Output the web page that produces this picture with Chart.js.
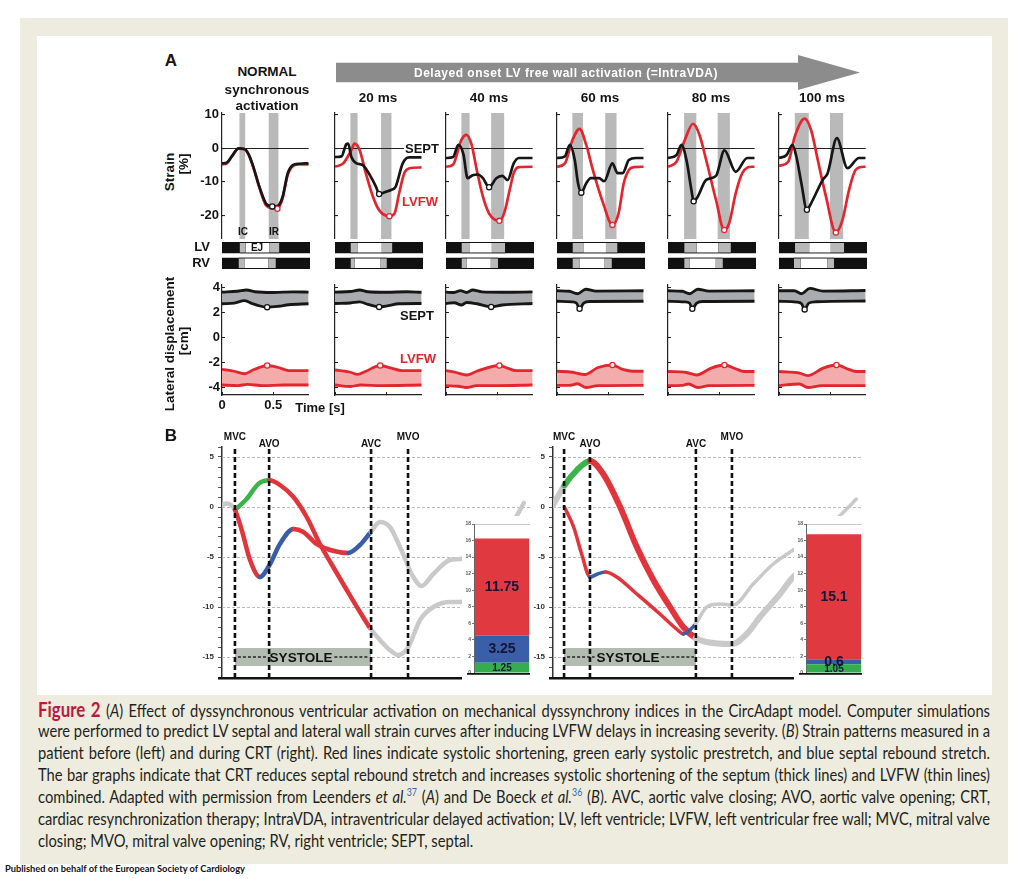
<!DOCTYPE html>
<html>
<head>
<meta charset="utf-8">
<title>Figure 2</title>
<script src="https://cdn.jsdelivr.net/npm/chart.js@4.4.1/dist/chart.umd.min.js"></script>
<style>
  html, body { margin: 0; padding: 0; background: #fff; }
  #page { position: relative; width: 1024px; height: 879px; overflow: hidden; background: #fff; font-family: "Liberation Sans", Arial, sans-serif; }
  #frame { position: absolute; left: 20px; top: 18px; width: 988px; height: 846px; background: #eeecdf; }
  #panel { position: absolute; left: 37px; top: 36px; width: 955px; height: 659px; background: #fff; }
  #arrow { position: absolute; left: 336px; top: 55px; width: 524px; height: 35px; background: #8c8c8c;
           clip-path: polygon(0 7.7px, 462px 7.7px, 462px 0, 524px 17.5px, 462px 35px, 462px 27.3px, 0 27.3px); }
  canvas { position: absolute; }
  .lbl { position: absolute; white-space: nowrap; font-weight: bold; color: #141414; line-height: 1; transform: translate(-50%, -50%); }
  .rot { transform: translate(-50%, -50%) rotate(-90deg); }
  .cap { position: absolute; white-space: nowrap; font-family: Lato, "Open Sans", sans-serif; font-size: 17.5px; line-height: 22px; color: #231f20; transform-origin: 0 50%; }
  .cap .fig { color: #c0163d; font-weight: bold; font-size: 20px; }
  .cap sup { font-size: 10.5px; color: #3d63b4; vertical-align: 0; position: relative; top: -7px; }
  .pub { position: absolute; white-space: nowrap; font-family: Lato, "Open Sans", sans-serif; font-weight: bold; font-size: 8.5px; color: #111; transform-origin: 0 50%; }
</style>
</head>
<body>
<div id="page">
  <div id="frame"></div>
  <div id="panel"></div>
  <div id="arrow"></div>
</div>
<script>
// ---------- Panel A: CircAdapt simulations ----------
var COLUMN_TITLES = ['20 ms', '40 ms', '60 ms', '80 ms', '100 ms'];
var TIME_MAX = 0.845;
var TIME_TICKS = [0, 0.5];
var STRAIN_TICKS = [-20, -10, 0, 10];
var DISP_TICKS = [-4, -2, 0, 2, 4];

// [IC start, IC end (=EJ start), IR start (=EJ end), IR end] in s
var LV_TIMING = [[0.17, 0.226, 0.455, 0.55], [0.15, 0.22, 0.449, 0.55], [0.15, 0.23, 0.44, 0.567],
                 [0.15, 0.253, 0.47, 0.58], [0.157, 0.276, 0.484, 0.603], [0.154, 0.29, 0.497, 0.625]];
var RV_TIMING = [[0.16, 0.22, 0.445, 0.516], [0.15, 0.19, 0.433, 0.497], [0.15, 0.2, 0.43, 0.5],
                 [0.15, 0.215, 0.452, 0.526], [0.157, 0.21, 0.458, 0.526], [0.144, 0.208, 0.465, 0.529]];

// strain [time s, %]
var SEPT_STRAIN = [
  [[0,-4.5],[0.05,-4.2],[0.1,-2.2],[0.16,0],[0.22,-0.2],[0.26,-1.8],[0.3,-5],[0.365,-11.5],[0.4,-14.5],[0.43,-16.5],[0.49,-17.3],[0.54,-17.2],[0.59,-14.5],[0.64,-7.5],[0.69,-5],[0.75,-4.6],[0.845,-4.5]],
  [[0,-2.6],[0.064,-2.4],[0.11,1.2],[0.128,1.4],[0.16,-2.6],[0.21,-4.5],[0.27,-5.0],[0.34,-8.0],[0.4,-11.5],[0.43,-13.6],[0.5,-12.9],[0.545,-12.4],[0.59,-11.5],[0.66,-4.5],[0.72,-2.7],[0.845,-2.7]],
  [[0,-2.9],[0.07,-2.6],[0.12,1.0],[0.17,-1.8],[0.21,-8.9],[0.26,-8.0],[0.31,-7.8],[0.36,-8.9],[0.42,-11.6],[0.49,-8.9],[0.55,-8.2],[0.6,-9.5],[0.66,-4.5],[0.71,-2.9],[0.845,-2.9]],
  [[0,-2.9],[0.077,-2.4],[0.125,1.0],[0.173,-3.5],[0.205,-10.4],[0.237,-13.2],[0.285,-10.4],[0.33,-8.9],[0.41,-8.9],[0.46,-9.8],[0.54,-4.5],[0.59,-7.4],[0.64,-7.4],[0.7,-3.5],[0.77,-2.9],[0.845,-2.9]],
  [[0,-2.9],[0.083,-2.0],[0.131,1.0],[0.18,-3.5],[0.228,-12.4],[0.25,-15.8],[0.29,-14.4],[0.372,-9.4],[0.468,-8.2],[0.55,-0.6],[0.66,-7.0],[0.772,-2.9],[0.845,-2.9]],
  [[0,-2.9],[0.074,-2.0],[0.131,1.0],[0.17,-2.6],[0.218,-10.4],[0.272,-18.3],[0.314,-16.3],[0.426,-9.4],[0.474,-7.4],[0.564,3.0],[0.667,-5.9],[0.779,-2.9],[0.845,-2.9]]
];
var LVFW_STRAIN = [
  [[0,-4.8],[0.05,-4.4],[0.1,-2.3],[0.16,-0.1],[0.22,-0.3],[0.26,-2],[0.3,-5.2],[0.365,-11.8],[0.4,-15],[0.43,-17],[0.49,-17.8],[0.54,-18],[0.59,-15],[0.64,-8],[0.69,-5.3],[0.75,-4.8],[0.845,-4.8]],
  [[0,-5.5],[0.08,-4.5],[0.16,-0.5],[0.19,1.4],[0.24,-0.5],[0.3,-7.4],[0.37,-14.4],[0.43,-18.4],[0.53,-20.2],[0.58,-19.4],[0.625,-13.4],[0.675,-7.4],[0.72,-6.0],[0.845,-5.7]],
  [[0,-5.5],[0.07,-4.8],[0.15,2.5],[0.2,4.0],[0.25,1.0],[0.3,-6.5],[0.36,-14.4],[0.42,-19.4],[0.52,-21.6],[0.57,-19.0],[0.62,-12.5],[0.66,-7.4],[0.71,-5.6],[0.845,-5.5]],
  [[0,-5.5],[0.077,-4.5],[0.15,2.4],[0.22,5.8],[0.285,1.0],[0.35,-6.5],[0.45,-16.4],[0.54,-22.8],[0.6,-19.4],[0.65,-10.5],[0.7,-6.5],[0.75,-5.6],[0.845,-5.5]],
  [[0,-5.5],[0.083,-4.0],[0.163,2.4],[0.244,7.3],[0.308,3.9],[0.372,-3.5],[0.468,-15.4],[0.548,-24.3],[0.596,-22.3],[0.66,-13.4],[0.724,-7.4],[0.82,-5.5],[0.845,-5.5]],
  [[0,-5.2],[0.09,-4.0],[0.154,3.5],[0.25,8.8],[0.314,5.3],[0.378,-3.5],[0.458,-14.4],[0.554,-25.1],[0.619,-21.3],[0.683,-12.4],[0.747,-6.4],[0.827,-5.5],[0.845,-5.5]]
];
var SEPT_PEAK = [[0.49,-17.3], [0.43,-13.6], [0.42,-11.6], [0.237,-13.2], [0.25,-15.8], [0.272,-18.3]];
var LVFW_PEAK = [[0.54,-18], [0.53,-20.2], [0.52,-21.6], [0.54,-22.8], [0.548,-24.3], [0.554,-25.1]];

// lateral displacement [time s, cm]
var SEPT_DISP_OUT = [
  [[0,3.63],[0.15,3.7],[0.24,3.8],[0.32,3.66],[0.5,3.6],[0.7,3.65],[0.845,3.63]],
  [[0,3.63],[0.15,3.68],[0.24,3.8],[0.32,3.66],[0.5,3.62],[0.7,3.66],[0.845,3.62]],
  [[0,3.63],[0.08,3.6],[0.14,3.75],[0.2,3.6],[0.26,3.8],[0.35,3.65],[0.55,3.62],[0.845,3.65]],
  [[0,3.74],[0.12,3.7],[0.2,3.5],[0.28,3.86],[0.38,3.71],[0.845,3.74]],
  [[0,3.74],[0.14,3.7],[0.21,3.5],[0.29,3.86],[0.4,3.71],[0.845,3.74]],
  [[0,3.74],[0.15,3.74],[0.22,3.5],[0.3,3.93],[0.43,3.71],[0.845,3.76]]
];
var SEPT_DISP_IN = [
  [[0,2.7],[0.12,2.75],[0.22,2.95],[0.3,2.7],[0.38,2.5],[0.44,2.43],[0.55,2.5],[0.65,2.62],[0.845,2.7]],
  [[0,2.72],[0.15,2.76],[0.24,2.85],[0.32,2.65],[0.43,2.45],[0.52,2.55],[0.62,2.7],[0.845,2.72]],
  [[0,2.72],[0.08,2.78],[0.15,2.6],[0.2,2.8],[0.3,2.7],[0.44,2.45],[0.55,2.6],[0.845,2.72]],
  [[0,2.9],[0.14,2.85],[0.19,2.75],[0.22,2.3],[0.26,2.75],[0.32,2.88],[0.845,2.9]],
  [[0,2.9],[0.16,2.85],[0.21,2.75],[0.237,2.3],[0.28,2.75],[0.34,2.88],[0.845,2.9]],
  [[0,2.9],[0.17,2.83],[0.22,2.7],[0.25,2.25],[0.29,2.75],[0.36,2.86],[0.845,2.92]]
];
var LVFW_DISP_IN = [
  [[0,-2.55],[0.12,-2.7],[0.22,-2.9],[0.3,-2.6],[0.38,-2.35],[0.44,-2.24],[0.55,-2.4],[0.65,-2.65],[0.845,-2.65]],
  [[0,-2.6],[0.15,-2.78],[0.22,-2.95],[0.3,-2.7],[0.44,-2.24],[0.55,-2.45],[0.65,-2.65],[0.845,-2.65]],
  [[0,-2.65],[0.1,-2.8],[0.2,-3.0],[0.3,-2.7],[0.52,-2.24],[0.6,-2.45],[0.68,-2.65],[0.845,-2.65]],
  [[0,-2.7],[0.15,-2.78],[0.27,-2.96],[0.4,-2.4],[0.54,-2.2],[0.64,-2.55],[0.74,-2.7],[0.845,-2.7]],
  [[0,-2.72],[0.18,-2.8],[0.28,-3.0],[0.42,-2.45],[0.55,-2.2],[0.66,-2.5],[0.74,-2.72],[0.845,-2.72]],
  [[0,-2.72],[0.2,-2.85],[0.28,-3.05],[0.43,-2.45],[0.56,-2.2],[0.68,-2.55],[0.75,-2.72],[0.845,-2.72]]
];
var LVFW_DISP_OUT = [
  [[0,-3.8],[0.15,-3.85],[0.25,-3.75],[0.4,-3.85],[0.6,-3.8],[0.845,-3.8]],
  [[0,-3.8],[0.15,-3.92],[0.25,-3.8],[0.45,-3.85],[0.845,-3.8]],
  [[0,-3.85],[0.12,-3.9],[0.2,-4.0],[0.3,-3.85],[0.5,-3.85],[0.845,-3.8]],
  [[0,-3.83],[0.12,-3.83],[0.2,-3.7],[0.28,-4.0],[0.4,-3.85],[0.845,-3.83]],
  [[0,-3.85],[0.14,-3.83],[0.2,-3.72],[0.29,-4.0],[0.4,-3.85],[0.845,-3.83]],
  [[0,-3.85],[0.2,-3.72],[0.28,-4.0],[0.42,-3.85],[0.845,-3.85]]
];
var SEPT_DISP_PEAK = [[0.44,2.43], [0.43,2.45], [0.44,2.45], [0.22,2.3], [0.237,2.3], [0.25,2.25]];
var LVFW_DISP_PEAK = [[0.44,-2.24], [0.44,-2.24], [0.52,-2.24], [0.54,-2.2], [0.55,-2.2], [0.56,-2.2]];

// ---------- Panel B: patient strain, before (PRE) and during CRT ----------
// [time (% of frame), strain %, phase of the following segment]
// phase: o = outside systole, p = prestretch, s = shortening, r = rebound stretch
var PRE_SEPT = [[0,0.2,'o'],[1.5,0.35,'o'],[4.2,-0.3,'s'],[6.4,-2.3,'s'],[9.1,-5.3,'s'],[12.3,-7.0,'r'],[15.6,-5.7,'r'],[18.8,-3.7,'r'],
  [23.2,-2.2,'s'],[26.4,-2.5,'s'],[30.7,-3.7,'s'],[35.1,-4.3,'s'],[41.0,-4.6,'r'],[44.8,-3.8,'r'],[48.3,-2.5,'o'],[51.3,-1.5,'o'],
  [54.5,-2.0,'o'],[57.8,-4.0,'o'],[62.1,-7.0,'o'],[64.8,-7.9,'o'],[68.6,-6.7,'o'],[74.0,-5.3,'o'],[77.3,-5.2,'o'],[85,-4.6,'o'],
  [92,-2.6,'o'],[95.5,-1.0,'o'],[98,0.4,'o']];
var PRE_LVFW = [[4.2,-0.3,'p'],[8.0,0.8,'p'],[11.8,2.3,'p'],[15.4,2.67,'s'],[18.8,2.2,'s'],[23.2,1.0,'s'],[27.5,-1.0,'s'],[31.8,-3.7,'s'],
  [36.1,-6.0,'s'],[40.5,-8.3,'s'],[44.8,-10.5,'s'],[48.3,-12.2,'o'],[51.3,-13.3,'o'],[54.5,-14.3,'o'],[57.2,-14.8,'o'],[60.5,-14.0,'o'],
  [64.3,-11.3,'o'],[68.6,-10.0,'o'],[74.0,-9.5,'o'],[77.3,-9.5,'o'],[88,-8.5,'o'],[98,-6,'o']];
var CRT_SEPT = [[3.7,0,'s'],[6.7,-2.0,'s'],[9.3,-4.7,'s'],[12.0,-7.0,'r'],[14.5,-6.7,'r'],[17.0,-6.5,'s'],[20.7,-7.0,'s'],[27.2,-8.7,'s'],
  [34.7,-10.7,'s'],[40.1,-12.2,'s'],[42.3,-12.7,'r'],[46.3,-11.7,'o'],[49.9,-10.0,'o'],[54.2,-9.7,'o'],[58.5,-9.8,'o'],[65,-7.7,'o'],
  [71.5,-5.7,'o'],[78,-4.3,'o'],[86,-2.8,'o'],[92,-1.2,'o'],[96,0,'o'],[98.5,0.8,'o']];
var CRT_LVFW = [[0,0.17,'o'],[3.7,2.17,'p'],[7.7,3.67,'p'],[12.0,4.6,'s'],[16.3,3.3,'s'],[21.8,0,'s'],[27.2,-4.0,'s'],[32.6,-7.3,'s'],
  [38.0,-10.0,'s'],[42.3,-12.0,'s'],[46.3,-13.1,'o'],[49.9,-13.5,'o'],[58.2,-13.7,'o'],[62.9,-12.7,'o'],[67.2,-11.0,'o'],[73.7,-8.7,'o'],
  [78.0,-7.0,'o'],[88,-5,'o'],[98,-3.5,'o']];
var VALVE_NAMES = ['MVC', 'AVO', 'AVC', 'MVO'];
var PRE_VALVES = [4.2, 15.3, 48.4, 60.4];
var CRT_VALVES = [3.6, 12.0, 46.4, 58.1];
var B_GRID = [5, 0, -5, -10, -15];
// stacked bars: prestretch, rebound stretch, shortening
var PRE_BAR = [1.25, 3.25, 11.75];
var CRT_BAR = [1.05, 0.6, 15.1];

// ---------- styling ----------
var RED = '#e3262d', INK = '#161616', BAND = '#b9b9b9';
var PHASE_COLOR = { o: '#c9c9c9', p: '#3cb44b', s: '#e2343b', r: '#3a5da9' };
var BAR_COLORS = ['#35ad4c', '#3b5ea8', '#e03a40'];
var PLOT_LEFT = [222, 335, 446, 557, 668, 779];
var PLOT_W = 88;

Chart.defaults.font.family = '"Liberation Sans", Arial, sans-serif';
Chart.defaults.animation = false;
Chart.defaults.events = [];
Chart.defaults.plugins.legend.display = false;
Chart.defaults.plugins.tooltip.enabled = false;

var page = document.getElementById('page');

function pts(a) {
  return a.map(function (p) { return { x: p[0], y: p[1] }; });
}
function fixW(w) { return function (s) { s.width = w; }; }
function fixH(h) { return function (s) { s.height = h; }; }
function setTicks(list) {
  return function (s) { s.ticks = list.map(function (v) { return { value: v }; }); };
}

// canvas whose chart area lands on the given page rectangle
function frame(left, top, right, bottom, m, hx) {
  var c = document.createElement('canvas');
  var w = Math.round(right - left + m.l + m.r);
  var h = Math.round(bottom - top + m.t + m.b);
  c.width = w; c.height = h;
  c.style.left = (left - m.l) + 'px';
  c.style.top = (top - m.t) + 'px';
  c.style.width = w + 'px'; c.style.height = h + 'px';
  page.appendChild(c);
  return { canvas: c, padding: { left: 0, top: m.t, right: m.r, bottom: m.b - (hx || 0) } };
}

function label(text, x, y, size, opts) {
  opts = opts || {};
  var d = document.createElement('div');
  d.className = 'lbl' + (opts.rot ? ' rot' : '');
  d.textContent = text;
  d.style.left = x + 'px';
  d.style.top = y + 'px';
  d.style.fontSize = size + 'px';
  if (opts.color) d.style.color = opts.color;
  if (opts.bg) { d.style.background = opts.bg; d.style.padding = '0 1px'; }
  if (opts.ls) d.style.letterSpacing = opts.ls;
  page.appendChild(d);
  return d;
}

// solid base line along the bottom of the chart area (value = scale minimum)
function drawBaseline(chart, width, extendLeft) {
  var a = chart.chartArea, ctx = chart.ctx;
  var py = chart.scales.y.getPixelForValue(chart.scales.y.min);
  ctx.save();
  ctx.setLineDash([]);
  ctx.globalAlpha = 1;
  ctx.strokeStyle = '#111';
  ctx.lineWidth = width;
  ctx.beginPath();
  ctx.moveTo(a.left - extendLeft, py + width / 2);
  ctx.lineTo(a.right, py + width / 2);
  ctx.stroke();
  ctx.restore();
}

// ---------- plugins ----------
var bandPlugin = {
  id: 'bands',
  beforeDraw: function (chart, args, o) {
    var x = chart.scales.x, a = chart.chartArea, ctx = chart.ctx, t = o.timing;
    ctx.save();
    ctx.fillStyle = BAND;
    [[t[0], t[1]], [t[2], t[3]]].forEach(function (b) {
      var x0 = x.getPixelForValue(b[0]), x1 = x.getPixelForValue(b[1]);
      ctx.fillRect(x0, a.top, x1 - x0, a.bottom - a.top);
    });
    ctx.restore();
  }
};

var guidePlugin = {
  id: 'guides',
  beforeDatasetsDraw: function (chart, args, o) {
    var y = chart.scales.y, a = chart.chartArea, ctx = chart.ctx;
    ctx.save();
    ctx.strokeStyle = '#b9b9b9';
    ctx.lineWidth = 1;
    ctx.setLineDash([3, 2]);
    o.values.forEach(function (v) {
      var py = Math.round(y.getPixelForValue(v)) + 0.5;
      ctx.beginPath(); ctx.moveTo(a.left, py); ctx.lineTo(a.right, py); ctx.stroke();
    });
    ctx.restore();
  },
  afterDraw: function (chart) {
    drawBaseline(chart, 2.4, 4);
  }
};

var valvePlugin = {
  id: 'valves',
  beforeDatasetsDraw: function (chart, args, o) {
    var x = chart.scales.x, y = chart.scales.y, ctx = chart.ctx;
    var x0 = x.getPixelForValue(o.at[0]), x1 = x.getPixelForValue(o.at[2]);
    var y0 = y.getPixelForValue(-14.1), y1 = y.getPixelForValue(-15.9), yc = y.getPixelForValue(-15);
    ctx.save();
    ctx.fillStyle = '#b3bcb1';
    ctx.fillRect(x0, y0, x1 - x0, y1 - y0);
    ctx.font = 'bold 13.5px "Liberation Sans", Arial';
    ctx.fillStyle = '#111';
    ctx.textAlign = 'center';
    ctx.textBaseline = 'middle';
    var cx = (x0 + x1) / 2 - 2;
    ctx.fillText('SYSTOLE', cx, yc + 1);
    var tw = ctx.measureText('SYSTOLE').width / 2;
    ctx.strokeStyle = '#222';
    ctx.lineWidth = 1.4;
    ctx.setLineDash([3, 2]);
    ctx.beginPath();
    ctx.moveTo(x0 + 3, yc); ctx.lineTo(cx - tw - 2, yc);
    ctx.moveTo(cx + tw + 2, yc); ctx.lineTo(x1 - 2, yc);
    ctx.stroke();
    ctx.restore();
  },
  afterDatasetsDraw: function (chart, args, o) {
    var x = chart.scales.x, a = chart.chartArea, ctx = chart.ctx;
    ctx.save();
    ctx.strokeStyle = '#111';
    ctx.lineWidth = 2.6;
    ctx.setLineDash([5, 3]);
    ctx.font = 'bold 10px "Liberation Sans", Arial';
    ctx.fillStyle = '#111';
    ctx.textAlign = 'center';
    ctx.textBaseline = 'middle';
    o.at.forEach(function (u, k) {
      var px = x.getPixelForValue(u);
      ctx.beginPath(); ctx.moveTo(px, a.top + 2); ctx.lineTo(px, a.bottom + 1); ctx.stroke();
      var name = VALVE_NAMES[k];
      var dy = (name === 'AVO' || name === 'AVC') ? 3 : 10;
      ctx.fillText(name, px, a.top - dy);
    });
    ctx.restore();
  }
};

var whitePlugin = {
  id: 'white',
  beforeDraw: function (chart) {
    var ctx = chart.ctx;
    ctx.save(); ctx.fillStyle = '#fff';
    ctx.fillRect(0, 0, chart.width, chart.height);
    ctx.restore();
  }
};

var barTextPlugin = {
  id: 'barText',
  afterDatasetsDraw: function (chart) {
    var ctx = chart.ctx;
    ctx.save();
    ctx.textAlign = 'center';
    ctx.textBaseline = 'middle';
    ctx.fillStyle = '#15153a';
    chart.data.datasets.forEach(function (ds, k) {
      var el = chart.getDatasetMeta(k).data[0];
      ctx.font = 'bold ' + (k === 0 ? 10 : 14) + 'px "Liberation Sans", Arial';
      ctx.fillText(String(ds.data[0]), el.x, (el.y + el.base) / 2 + (k === 0 ? 0.5 : 0));
    });
    ctx.restore();
  },
  afterDraw: function (chart) {
    drawBaseline(chart, 1.8, 7);
  }
};

// ---------- Panel A charts ----------
function marker(p, color) {
  return { data: pts([p]), showLine: false, pointRadius: 2.6, pointBackgroundColor: '#fff',
           pointBorderColor: color, pointBorderWidth: 1.3, order: 0 };
}
function curve(series, color, width, order, extra) {
  var d = { data: pts(series), borderColor: color, borderWidth: width, pointRadius: 0,
            cubicInterpolationMode: 'monotone', order: order, fill: false };
  for (var k in extra) d[k] = extra[k];
  return d;
}

function strainChart(i) {
  var L = PLOT_LEFT[i];
  var f = frame(L, 113, L + PLOT_W, 239, { l: 44, t: 16, r: 4, b: 16 });
  new Chart(f.canvas, {
    type: 'line',
    data: { datasets: [
      marker(SEPT_PEAK[i], INK),
      marker(LVFW_PEAK[i], RED),
      curve(SEPT_STRAIN[i], INK, 2.7, 1),
      curve(LVFW_STRAIN[i], RED, 2.7, 2)
    ] },
    options: {
      responsive: false,
      layout: { padding: f.padding },
      scales: {
        x: { type: 'linear', min: 0, max: TIME_MAX, display: false },
        y: {
          min: -27, max: 10.5, afterFit: fixW(44), afterBuildTicks: setTicks(STRAIN_TICKS),
          border: { color: '#222', width: 1.2 },
          grid: { color: function (c) { return c.tick && c.tick.value === 0 ? '#222' : 'rgba(0,0,0,0)'; },
                  lineWidth: 1.1, tickLength: -3, tickColor: '#222' },
          ticks: { display: i === 0, font: { size: 13, weight: 'bold' }, color: '#141414', padding: 6 }
        }
      },
      plugins: { bands: { timing: LV_TIMING[i] } }
    },
    plugins: [bandPlugin]
  });
}

function timingChart(i) {
  var L = PLOT_LEFT[i], lv = LV_TIMING[i], rv = RV_TIMING[i];
  var f = frame(L, 240, L + PLOT_W, 271, { l: 44, t: 14, r: 4, b: 14 });
  var seg = { borderColor: '#111', borderWidth: { top: 1, bottom: 1, left: 0, right: 0 }, borderSkipped: false, order: 0 };
  function ds(a, b, color) {
    var d = { data: [a, b], backgroundColor: color };
    for (var k in seg) d[k] = seg[k];
    return d;
  }
  var cycle = ds([0, TIME_MAX], [0, TIME_MAX], '#111');
  cycle.order = 1;
  new Chart(f.canvas, {
    type: 'bar',
    data: { labels: ['LV', 'RV'], datasets: [
      ds([lv[0], lv[1]], [rv[0], rv[1]], BAND),
      ds([lv[1], lv[2]], [rv[1], rv[2]], '#fff'),
      ds([lv[2], lv[3]], [rv[2], rv[3]], BAND),
      cycle
    ] },
    options: {
      responsive: false,
      indexAxis: 'y',
      layout: { padding: f.padding },
      datasets: { bar: { grouped: false, barThickness: 11 } },
      scales: {
        x: { type: 'linear', min: 0, max: TIME_MAX, display: false },
        y: { afterFit: fixW(44), grid: { display: false }, border: { display: false },
             ticks: { display: i === 0, autoSkip: false, font: { size: 13, weight: 'bold' }, color: '#141414', padding: 4 } }
      }
    }
  });
}

function dispChart(i) {
  var L = PLOT_LEFT[i];
  var f = frame(L, 285, L + PLOT_W, 395, { l: 44, t: 16, r: 4, b: 24 }, 20);
  new Chart(f.canvas, {
    type: 'line',
    data: { datasets: [
      marker(SEPT_DISP_PEAK[i], INK),
      marker(LVFW_DISP_PEAK[i], RED),
      curve(SEPT_DISP_OUT[i], INK, 2.8, 1, { fill: '+1', backgroundColor: '#a9abae' }),
      curve(SEPT_DISP_IN[i], INK, 2.8, 0.5),
      curve(LVFW_DISP_IN[i], RED, 2.8, 1, { fill: '+1', backgroundColor: '#f3abab' }),
      curve(LVFW_DISP_OUT[i], RED, 2.8, 0.5)
    ] },
    options: {
      responsive: false,
      layout: { padding: f.padding },
      scales: {
        x: { type: 'linear', min: 0, max: TIME_MAX, afterFit: fixH(20), afterBuildTicks: setTicks(TIME_TICKS),
             border: { color: '#222', width: 1.2 },
             grid: { drawOnChartArea: false, tickLength: -3, tickColor: '#222' },
             ticks: { display: i === 0, font: { size: 13, weight: 'bold' }, color: '#141414', padding: 6, maxRotation: 0 } },
        y: { min: -4.6, max: 4.2, afterFit: fixW(44), afterBuildTicks: setTicks(DISP_TICKS),
             border: { color: '#222', width: 1.2 },
             grid: { drawOnChartArea: false, tickLength: -3, tickColor: '#222' },
             ticks: { display: i === 0, font: { size: 13, weight: 'bold' }, color: '#141414', padding: 5 } }
      }
    }
  });
}

for (var i = 0; i < PLOT_LEFT.length; i++) {
  strainChart(i);
  timingChart(i);
  dispChart(i);
}

// ---------- Panel B charts ----------
function beatCurve(series, width) {
  return {
    data: pts(series), borderWidth: width, pointRadius: 0, cubicInterpolationMode: 'monotone',
    borderColor: PHASE_COLOR.o, borderCapStyle: 'round', borderJoinStyle: 'round', fill: false,
    segment: { borderColor: function (c) { return PHASE_COLOR[series[c.p0DataIndex][2]]; } }
  };
}

function beatChart(left, sept, lvfw, valves, septW, lvfwW) {
  var f = frame(left, 447, left + 308, 677, { l: 42, t: 24, r: 4, b: 12 });
  new Chart(f.canvas, {
    type: 'line',
    data: { datasets: [beatCurve(sept, septW), beatCurve(lvfw, lvfwW)] },
    options: {
      responsive: false,
      layout: { padding: f.padding },
      scales: {
        x: { type: 'linear', min: 0, max: 100, display: false },
        y: { min: -17, max: 6, afterFit: fixW(42), border: { color: '#333', width: 1.5 },
             grid: { drawOnChartArea: false, tickLength: 4, tickColor: '#555', tickWidth: 1 },
             ticks: { stepSize: 1, autoSkip: false, font: { size: 8, weight: 'bold' }, color: '#333', padding: 4,
                      callback: function (v) { return (v % 5 === 0 && v >= -15 && v <= 5) ? String(v) : ''; } } }
      },
      plugins: { guides: { values: B_GRID }, valves: { at: valves } }
    },
    plugins: [guidePlugin, valvePlugin]
  });
}

function barChart(left, values) {
  var f = frame(left, 524, left + 56, 673, { l: 12, t: 8, r: 2, b: 8 });
  new Chart(f.canvas, {
    type: 'bar',
    data: { labels: [''], datasets: values.map(function (v, k) {
      return { data: [v], backgroundColor: BAR_COLORS[k] };
    }) },
    options: {
      responsive: false,
      layout: { padding: f.padding },
      datasets: { bar: { barPercentage: 1, categoryPercentage: 0.97 } },
      scales: {
        x: { stacked: true, display: false },
        y: { stacked: true, min: 0, max: 18, afterFit: fixW(12), border: { color: '#666', width: 1 },
             grid: { color: function (c) { return c.tick && c.tick.value === 18 ? '#c8c8c8' : 'rgba(0,0,0,0)'; },
                     tickLength: 2, tickColor: '#777' },
             ticks: { stepSize: 2, autoSkip: false, font: { size: 5, weight: 'bold' }, color: '#555', padding: 1 } }
      }
    },
    plugins: [whitePlugin, barTextPlugin]
  });
}

beatChart(222, PRE_SEPT, PRE_LVFW, PRE_VALVES, 4.5, 4.5);
beatChart(553, CRT_SEPT, CRT_LVFW, CRT_VALVES, 3.5, 6);
barChart(474, PRE_BAR);
barChart(806, CRT_BAR);

// ---------- text ----------
label('A', 171, 60, 17);
label('B', 171, 435, 17);
label('NORMAL', 267, 72, 13.5);
label('synchronous', 267, 90, 13.5);
label('activation', 267, 106, 13.5);
COLUMN_TITLES.forEach(function (t, k) { label(t, PLOT_LEFT[k + 1] + 43, 98, 13.5); });
label('Delayed onset LV free wall activation (=IntraVDA)', 566, 72.5, 12, { color: '#fff', ls: '0.5px' });
label('Strain', 170, 172, 13.5, { rot: true });
label('[%]', 184, 164, 13.5, { rot: true });
label('Lateral displacement', 170, 344, 13.5, { rot: true });
label('[cm]', 184, 341, 13.5, { rot: true });
label('Time [s]', 320, 407, 13);
label('IC', 243, 232, 10);
label('IR', 274, 232, 10);
label('EJ', 257, 248, 10);
label('SEPT', 422, 148, 13, { bg: '#fff' });
label('LVFW', 420, 201, 13, { color: RED });
label('SEPT', 417, 315, 13);
label('LVFW', 418, 358, 13, { color: RED });

// ---------- caption ----------
var CAPTION_LINES = [
  '<span class="fig">Figure 2</span> (<i>A</i>) Effect of dyssynchronous ventricular activation on mechanical dyssynchrony indices in the CircAdapt model. Computer simulations',
  'were performed to predict LV septal and lateral wall strain curves after inducing LVFW delays in increasing severity. (<i>B</i>) Strain patterns measured in a',
  'patient before (left) and during CRT (right). Red lines indicate systolic shortening, green early systolic prestretch, and blue septal rebound stretch.',
  'The bar graphs indicate that CRT reduces septal rebound stretch and increases systolic shortening of the septum (thick lines) and LVFW (thin lines)',
  'combined. Adapted with permission from Leenders <i>et al.</i><sup>37</sup> (<i>A</i>) and De Boeck <i>et al.</i><sup>36</sup> (<i>B</i>). AVC, aortic valve closing; AVO, aortic valve opening; CRT,',
  'cardiac resynchronization therapy; IntraVDA, intraventricular delayed activation; LV, left ventricle; LVFW, left ventricular free wall; MVC, mitral valve',
  'closing; MVO, mitral valve opening; RV, right ventricle; SEPT, septal.'
];
var CAP_LEFT = 38, CAP_TOP = 709, CAP_STEP = 22, CAP_WIDTH = 952;

var capDivs = CAPTION_LINES.map(function (html, k) {
  var d = document.createElement('div');
  d.className = 'cap';
  d.innerHTML = html;
  d.style.left = CAP_LEFT + 'px';
  d.style.top = (CAP_TOP + k * CAP_STEP - 11) + 'px';
  page.appendChild(d);
  return d;
});
var capWidths = capDivs.map(function (d) { return d.getBoundingClientRect().width; });
var capScale = Math.min.apply(null, capWidths.slice(0, -1).map(function (w) { return CAP_WIDTH / w; }));
capDivs.forEach(function (d, k) {
  if (k < capDivs.length - 1) {
    var spaces = (d.textContent.match(/ /g) || []).length;
    d.style.wordSpacing = ((CAP_WIDTH / capScale - capWidths[k]) / spaces) + 'px';
  }
  d.style.transform = 'scaleX(' + capScale + ')';
});

var pub = document.createElement('div');
pub.className = 'pub';
pub.textContent = 'Published on behalf of the European Society of Cardiology';
pub.style.left = '5px';
pub.style.top = '864px';
page.appendChild(pub);
pub.style.transform = 'scaleX(' + (240 / pub.getBoundingClientRect().width) + ')';
</script>
</body>
</html>
